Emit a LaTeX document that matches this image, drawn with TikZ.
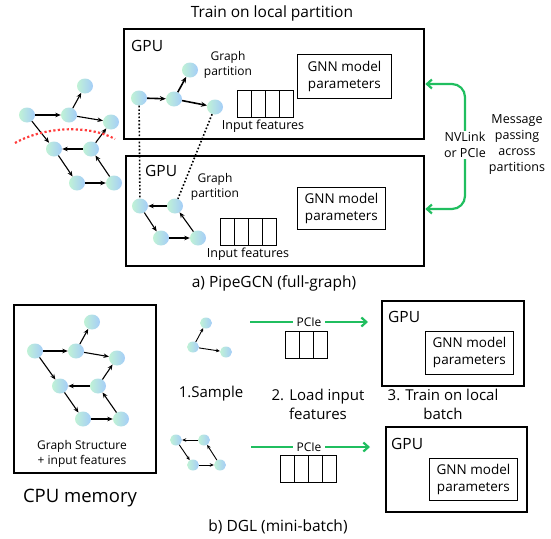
\documentclass[tikz,border=0pt]{standalone}
\usepackage{fontspec}
\setmainfont{Open Sans}
\usetikzlibrary{arrows.meta,shapes.geometric}
\definecolor{nodeg}{RGB}{192,242,214}
\definecolor{nodeb}{RGB}{165,205,248}
\definecolor{greenc}{RGB}{32,190,95}
\definecolor{redc}{RGB}{255,60,60}
\newcommand\featarr[4]{%
  \node[draw, line width=0.9pt, minimum width=#4*14pt, minimum height=27pt, inner sep=0pt, anchor=north west] (#1) at (#2,#3) {};
  \foreach \k in {1,...,\numexpr#4-1\relax}{\draw[line width=0.9pt] ([xshift=\k*14pt]#1.north west) -- ([xshift=\k*14pt]#1.south west);}%
}
\begin{document}
\begin{tikzpicture}[x=1pt,y=-1pt,
  gn/.style={ellipse, minimum width=16pt, minimum height=15pt, inner sep=0pt, left color=nodeg, right color=nodeb, draw=none},
  sgn/.style={gn, minimum width=12pt, minimum height=11pt},
  ar/.style={-{Stealth[length=5.5pt,width=4.5pt]}, line width=1.1pt},
  tar/.style={-{Stealth[length=6pt,width=5pt]}, line width=1.6pt},
  sar/.style={-{Stealth[length=4pt,width=3.5pt]}, line width=0.9pt},
  gpubox/.style={draw, line width=2.3pt, inner sep=0pt},
  gnnbox/.style={draw, line width=0.9pt, align=center, inner sep=0pt, font=\fontsize{13.5}{17}\selectfont},
  lbl/.style={align=center, inner sep=0pt, font=\fontsize{12.5}{16}\selectfont},
  gpul/.style={anchor=west, inner sep=0pt, font=\fontsize{15.5}{17}\selectfont},
  captxt/.style={inner sep=0pt, font=\fontsize{15.5}{18}\selectfont},
  gline/.style={draw=greenc, line width=2.2pt},
  dotl/.style={dotted, line width=1.6pt},
]
\useasboundingbox (0,0) rectangle (551,538);

% ---------- Part a ----------
\node[captxt] (title) at (272,13) {Train on local partition};

\node[gpubox, minimum width=300pt, minimum height=110pt, anchor=north west] (gpu1) at (123,28) {};
\node[gpubox, minimum width=298pt, minimum height=110pt, anchor=north west] (gpu2) at (125,155) {};
\node[gpul] (gpu1l) at (131,46) {GPU};
\node[gpul] (gpu2l) at (145,171) {GPU};

\node[lbl, font=\fontsize{12}{15}\selectfont] (gp1) at (228,65) {Graph\\partition};
\node[lbl, font=\fontsize{12}{15}\selectfont] (gp2) at (215,187) {Graph\\partition};

\node[gnnbox, minimum width=94pt, minimum height=44pt, anchor=north west] (gnn1) at (297,54) {GNN model\\parameters};
\node[gnnbox, minimum width=88pt, minimum height=42pt, anchor=north west] (gnn2) at (297,187) {GNN model\\parameters};

\featarr{fa1}{237}{90}{4}
\featarr{fa2}{220}{218}{4}
\node[lbl] (if1) at (263,126) {Input features};
\node[lbl] (if2) at (248,254) {Input features};

% top partition graph
\node[gn] (a1) at (139,98) {};
\node[gn] (a2) at (174,99) {};
\node[gn] (a3) at (190,70) {};
\node[gn] (a4) at (215,107) {};
\draw[tar] (a1) -- (a2);
\draw[tar] (a2) -- (a3);
\draw[tar] (a2) -- (a4);

% bottom partition graph
\node[gn] (b1) at (140,206) {};
\node[gn] (b2) at (175,206) {};
\node[gn] (b3) at (161,238) {};
\node[gn] (b4) at (198,238) {};
\draw[ar] (b2) -- (b1);
\draw[ar] (b1) -- (b3);
\draw[ar] (b3) -- (b4);
\draw[ar] (b4) -- (b2);

% dotted cross-partition links
\draw[dotl] (a1) -- (b1);
\draw[dotl] (a4) -- (b2);

% left full graph
\node[gn] (g1) at (27,115) {};
\node[gn] (g2) at (69,115) {};
\node[gn] (g3) at (85,86) {};
\node[gn] (g4) at (111,122) {};
\node[gn] (g5) at (54,149) {};
\node[gn] (g6) at (91,149) {};
\node[gn] (g7) at (77,183) {};
\node[gn] (g8) at (114,183) {};
\draw[ar] (g1) -- (g2);
\draw[ar] (g2) -- (g3);
\draw[ar] (g2) -- (g4);
\draw[ar] (g1) -- (g5);
\draw[ar] (g6) -- (g5);
\draw[ar] (g6) -- (g4);
\draw[ar] (g5) -- (g7);
\draw[ar] (g7) -- (g8);
\draw[ar] (g8) -- (g6);
\draw[redc, dash pattern=on 2.2pt off 2.3pt, line width=2.2pt] (15,143) .. controls (45,126) and (90,125) .. (115,139);

% green NVLink link
\coordinate (ga) at (gpu1.east |- 0,84);
\coordinate (gb) at (gpu2.east |- 0,209);
\draw[gline, {Straight Barb[length=5pt,width=9pt]}-{Straight Barb[length=5pt,width=9pt]}, rounded corners=13pt] (ga) -| (465,146) |- (gb);
\node[lbl, fill=white, inner sep=1pt] (nv) at (465,145) {NVLink\\or PCIe};
\node[lbl] (msg) at (517,145) {Message\\passing\\across\\partitions};

\node[captxt] (capa) at (274,283) {a) PipeGCN (full-graph)};

% ---------- Part b ----------
\node[gpubox, minimum width=142pt, minimum height=168pt, anchor=north west] (cpu) at (13,304) {};
\node[lbl, font=\fontsize{12}{15}\selectfont] (gs) at (82,454) {Graph Structure\\+ input features};
\node[inner sep=0pt, font=\fontsize{18.5}{20}\selectfont] (cpul) at (80,498) {CPU memory};

\node[gn] (c1) at (35,351) {};
\node[gn] (c2) at (76,351) {};
\node[gn] (c3) at (92,322) {};
\node[gn] (c4) at (117,358) {};
\node[gn] (c5) at (60,386) {};
\node[gn] (c6) at (98,386) {};
\node[gn] (c7) at (83,419) {};
\node[gn] (c8) at (121,419) {};
\draw[ar] (c1) -- (c2);
\draw[ar] (c2) -- (c3);
\draw[ar] (c2) -- (c4);
\draw[ar] (c1) -- (c5);
\draw[ar] (c6) -- (c5);
\draw[ar] (c6) -- (c4);
\draw[ar] (c5) -- (c7);
\draw[ar] (c7) -- (c8);
\draw[ar] (c8) -- (c6);

% sample 1
\node[sgn] (s1) at (193,347) {};
\node[sgn] (s2) at (206,323) {};
\node[sgn] (s3) at (226,352) {};
\draw[sar] (s1) -- (s2);
\draw[sar] (s1) -- (s3);
\node[captxt, font=\fontsize{15}{18}\selectfont] (samp) at (211,394) {1.Sample};

% sample 2
\node[sgn] (t1) at (176,440) {};
\node[sgn] (t2) at (204,440) {};
\node[sgn] (t3) at (193,465) {};
\node[sgn] (t4) at (220,465) {};
\draw[sar] (t2) -- (t1);
\draw[sar] (t1) -- (t3);
\draw[sar] (t3) -- (t4);
\draw[sar] (t4) -- (t2);

% PCIe arrows
\coordinate (p1s) at (250,322);
\coordinate (p1e) at (368,322);
\coordinate (p2s) at (251,447);
\coordinate (p2e) at (370,447);
\draw[gline, -{Straight Barb[length=5pt,width=9pt]}] (p1s) -- (p1e);
\draw[gline, -{Straight Barb[length=5pt,width=9pt]}] (p2s) -- (p2e);
\node[fill=white, inner xsep=3.5pt, inner ysep=1.5pt, font=\fontsize{12}{14}\selectfont] (pc1) at (309,322) {PCIe};
\node[fill=white, inner xsep=3.5pt, inner ysep=1.5pt, font=\fontsize{12}{14}\selectfont] (pc2) at (309,447) {PCIe};

\featarr{fb1}{285}{331}{3}
\featarr{fb2}{280}{455}{4}
\node[captxt, align=center, font=\fontsize{15}{19}\selectfont] (load) at (318,404) {2. Load input\\features};

% GPU boxes b
\node[gpubox, minimum width=142pt, minimum height=85pt, anchor=north west] (gpu3) at (381,300) {};
\node[gpubox, minimum width=141pt, minimum height=85pt, anchor=north west] (gpu4) at (385,426) {};
\node[gpul] (gpu3l) at (388,317) {GPU};
\node[gpul] (gpu4l) at (391,444) {GPU};
\node[gnnbox, minimum width=88pt, minimum height=43pt, anchor=north west] (gnn3) at (425,331) {GNN model\\parameters};
\node[gnnbox, minimum width=88pt, minimum height=42pt, anchor=north west] (gnn4) at (429,458) {GNN model\\parameters};
\node[captxt, align=center, font=\fontsize{15}{19}\selectfont] (train) at (443,404) {3. Train on local\\batch};

\node[captxt] (capb) at (278,527) {b) DGL (mini-batch)};
\end{tikzpicture}
\end{document}
